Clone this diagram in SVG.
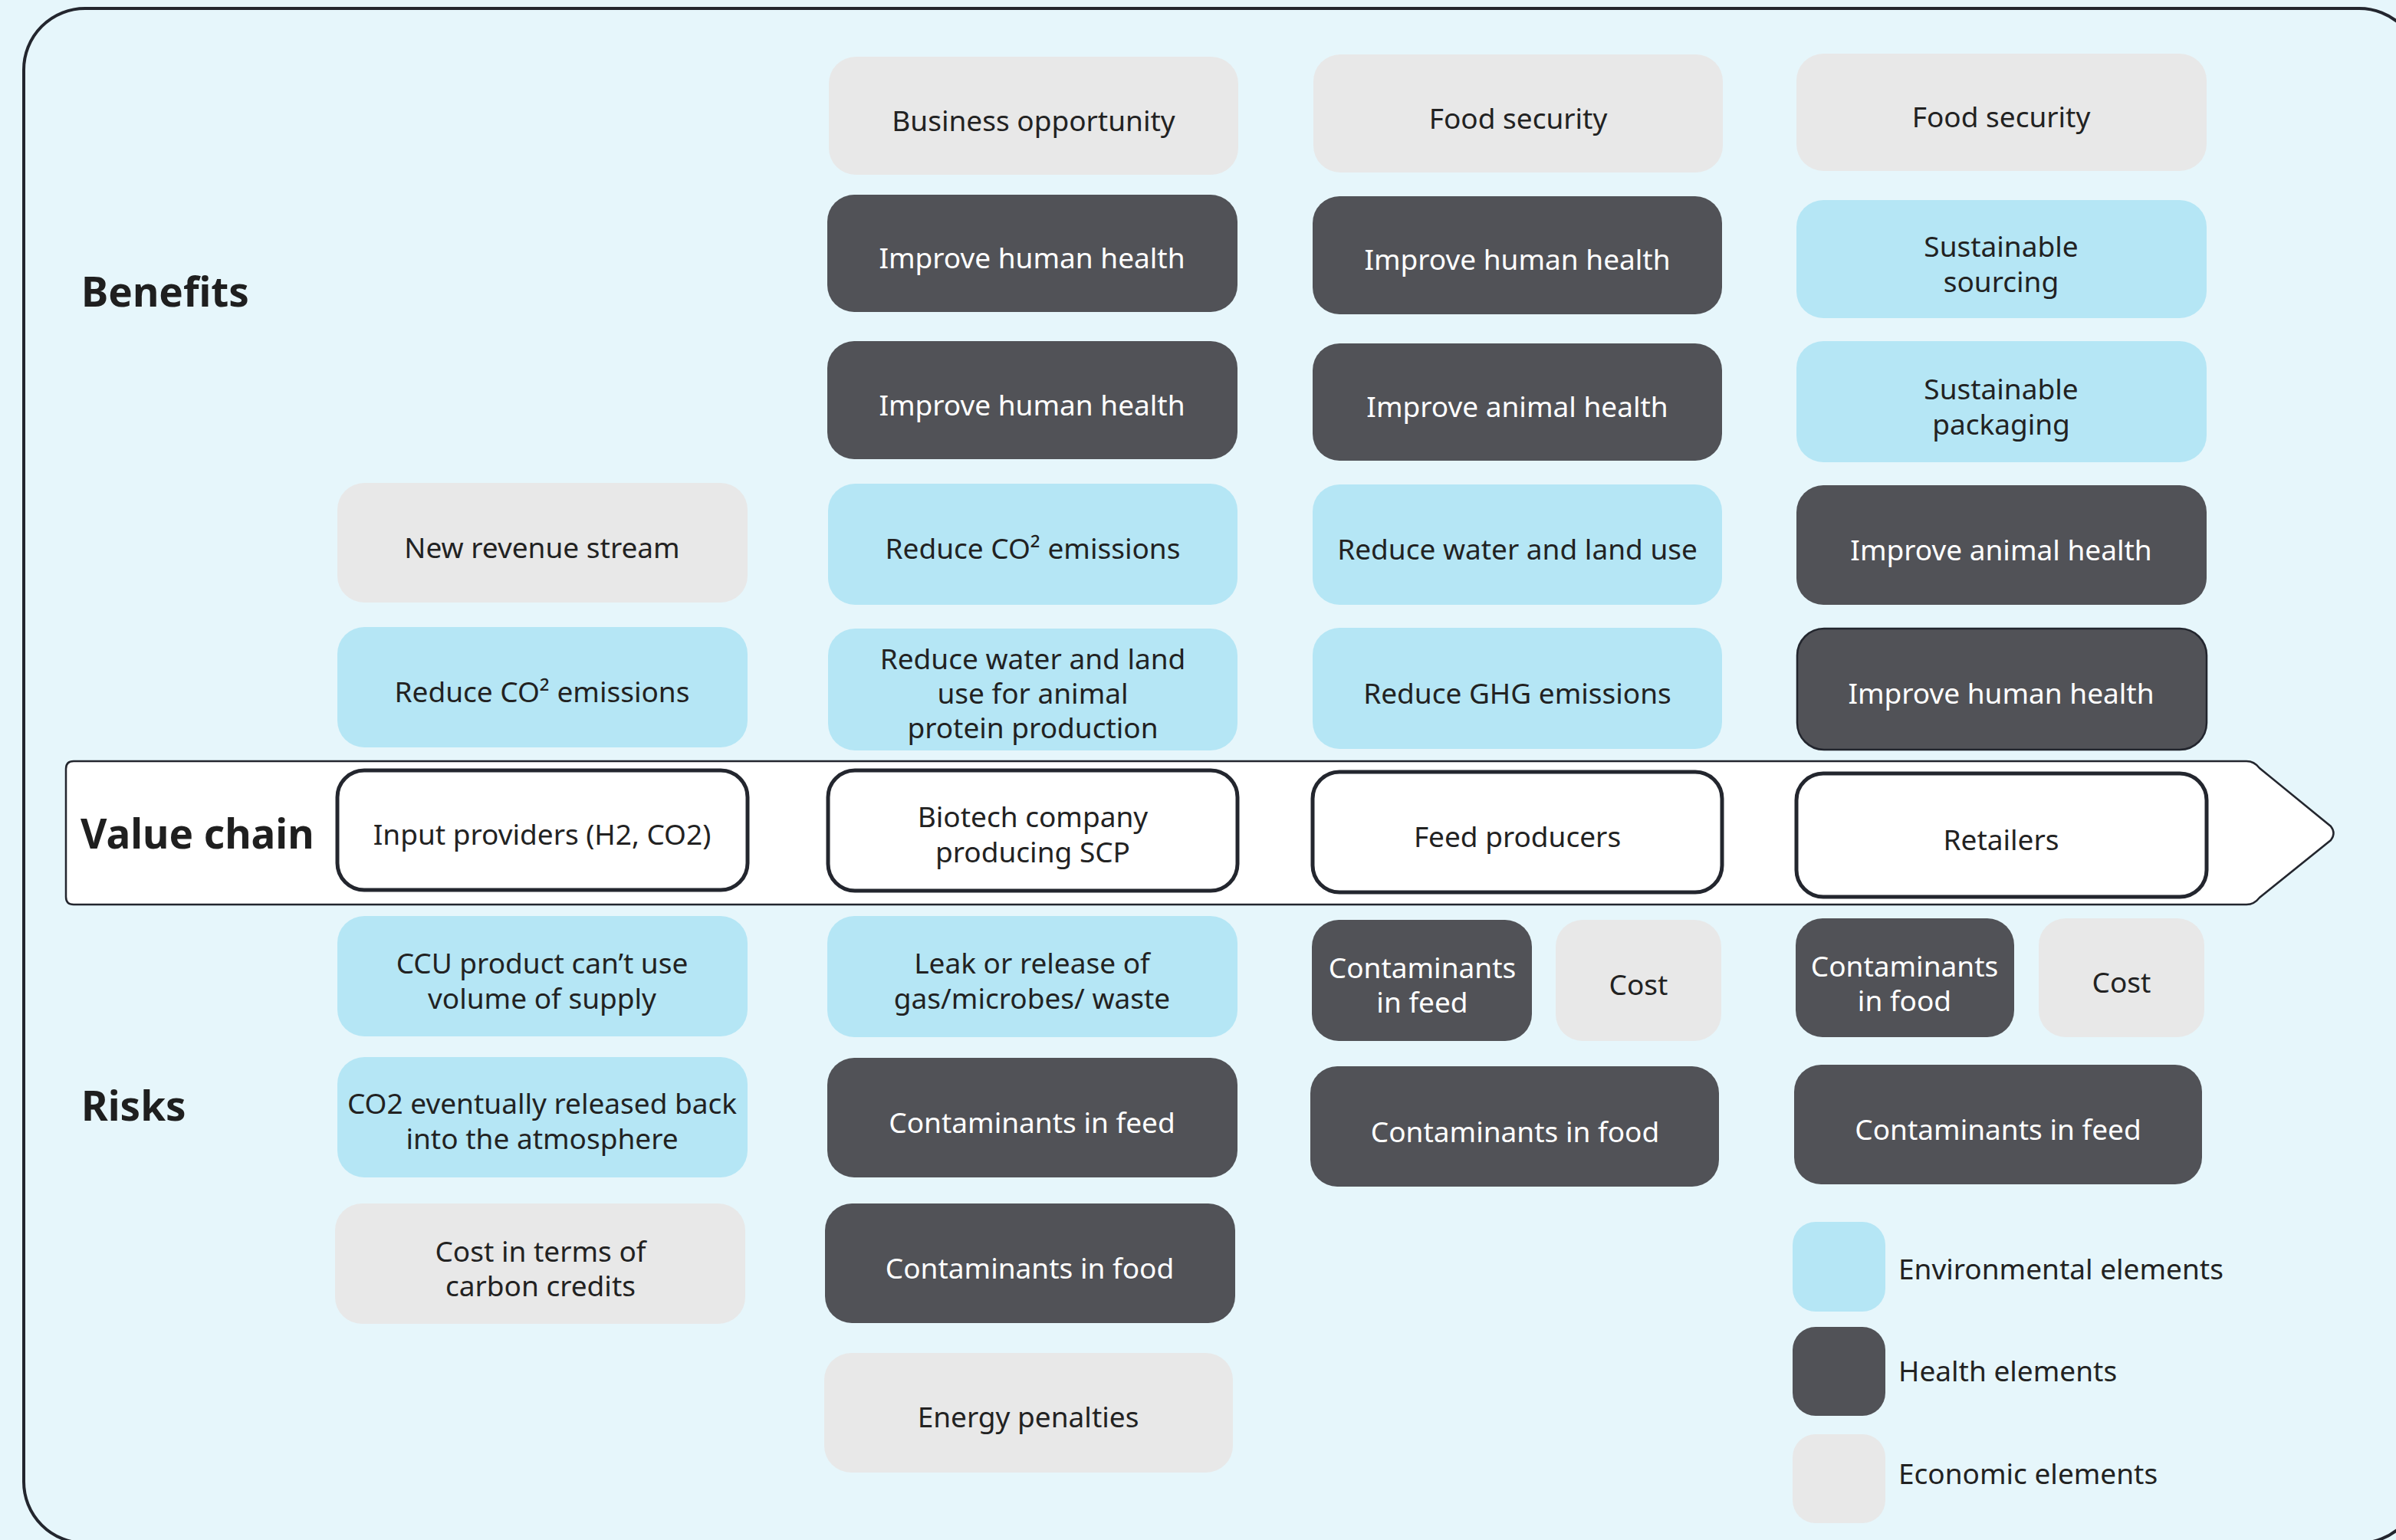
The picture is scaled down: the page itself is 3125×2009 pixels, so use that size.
<svg xmlns="http://www.w3.org/2000/svg" width="3125" height="2009" viewBox="0 0 3125 2009">
  <style>
    .env { fill: #b5e6f5; }
    .hl { fill: #515257; }
    .eco { fill: #e8e8e8; }
    .vc { fill: #ffffff; stroke: #23262e; stroke-width: 5; }
    .t { font-family: "Noto Sans", "Open Sans", sans-serif; font-size: 37px; text-anchor: middle; fill: #222222; }
    .w { fill: #ffffff; }
    .lg { font-family: "Noto Sans", "Open Sans", sans-serif; font-size: 37px; fill: #222222; }
    .h { font-family: "Noto Sans", "Open Sans", sans-serif; font-size: 53px; font-weight: bold; fill: #1f1f1f; }
  </style>

  <!-- background and frame -->
  <rect x="0" y="0" width="3125" height="2009" fill="#e6f6fb"/>
  <rect x="31" y="11" width="3126" height="2002" rx="80" ry="80" fill="none" stroke="#23262e" stroke-width="4"/>

  <!-- row headings -->
  <g id="headings">
    <text class="h" x="106" y="400">Benefits</text>
    <text class="h" x="106" y="1462">Risks</text>
  </g>

  <!-- value chain arrow -->
  <g id="value-chain">
    <path d="M96,993 H2930 Q2940,993 2947,1002 L3040,1078 Q3047,1087 3040,1096 L2947,1171 Q2940,1180 2930,1180 H96 Q86,1180 86,1170 V1003 Q86,993 96,993 Z" fill="#ffffff" stroke="#23262e" stroke-width="2.5"/>
    <text class="h" x="105" y="1107">Value chain</text>
  </g>

  <!-- column 1: input providers -->
  <g id="c1-revenue"><rect class="eco" x="440" y="630" width="535" height="156" rx="35"/><text class="t" x="707" y="728">New revenue stream</text></g>
  <g id="c1-co2"><rect class="env" x="440" y="818" width="535" height="157" rx="35"/><text class="t" x="707" y="916">Reduce CO² emissions</text></g>
  <g id="c1-input"><rect class="vc" x="440" y="1005" width="535" height="156" rx="35"/><text class="t" x="707" y="1102">Input providers (H2, CO2)</text></g>
  <g id="c1-ccu"><rect class="env" x="440" y="1195" width="535" height="157" rx="35"/><text class="t" x="707" y="1270">CCU product can’t use<tspan x="707" dy="46">volume of supply</tspan></text></g>
  <g id="c1-release"><rect class="env" x="440" y="1379" width="535" height="157" rx="35"/><text class="t" x="707" y="1453">CO2 eventually released back<tspan x="707" dy="46">into the atmosphere</tspan></text></g>
  <g id="c1-credits"><rect class="eco" x="437" y="1570" width="535" height="157" rx="35"/><text class="t" x="705" y="1646">Cost in terms of<tspan x="705" dy="45">carbon credits</tspan></text></g>

  <!-- column 2: biotech company -->
  <g id="c2-business"><rect class="eco" x="1081" y="74" width="534" height="154" rx="35"/><text class="t" x="1348" y="171">Business opportunity</text></g>
  <g id="c2-human1"><rect class="hl" x="1079" y="254" width="535" height="153" rx="35"/><text class="t w" x="1346" y="350">Improve human health</text></g>
  <g id="c2-human2"><rect class="hl" x="1079" y="445" width="535" height="154" rx="35"/><text class="t w" x="1346" y="542">Improve human health</text></g>
  <g id="c2-co2"><rect class="env" x="1080" y="631" width="534" height="158" rx="35"/><text class="t" x="1347" y="729">Reduce CO² emissions</text></g>
  <g id="c2-water"><rect class="env" x="1080" y="820" width="534" height="159" rx="35"/><text class="t" x="1347" y="873">Reduce water and land<tspan x="1347" dy="45">use for animal</tspan><tspan x="1347" dy="45">protein production</tspan></text></g>
  <g id="c2-biotech"><rect class="vc" x="1080" y="1005" width="534" height="157" rx="35"/><text class="t" x="1347" y="1079">Biotech company<tspan x="1347" dy="46">producing SCP</tspan></text></g>
  <g id="c2-leak"><rect class="env" x="1079" y="1195" width="535" height="158" rx="35"/><text class="t" x="1346" y="1270">Leak or release of<tspan x="1346" dy="46">gas/microbes/ waste</tspan></text></g>
  <g id="c2-feed"><rect class="hl" x="1079" y="1380" width="535" height="156" rx="35"/><text class="t w" x="1346" y="1478">Contaminants in feed</text></g>
  <g id="c2-food"><rect class="hl" x="1076" y="1570" width="535" height="156" rx="35"/><text class="t w" x="1343" y="1668">Contaminants in food</text></g>
  <g id="c2-energy"><rect class="eco" x="1075" y="1765" width="533" height="156" rx="35"/><text class="t" x="1341" y="1862">Energy penalties</text></g>

  <!-- column 3: feed producers -->
  <g id="c3-security"><rect class="eco" x="1713" y="71" width="534" height="154" rx="35"/><text class="t" x="1980" y="168">Food security</text></g>
  <g id="c3-human"><rect class="hl" x="1712" y="256" width="534" height="154" rx="35"/><text class="t w" x="1979" y="352">Improve human health</text></g>
  <g id="c3-animal"><rect class="hl" x="1712" y="448" width="534" height="153" rx="35"/><text class="t w" x="1979" y="544">Improve animal health</text></g>
  <g id="c3-water"><rect class="env" x="1712" y="632" width="534" height="157" rx="35"/><text class="t" x="1979" y="730">Reduce water and land use</text></g>
  <g id="c3-ghg"><rect class="env" x="1712" y="819" width="534" height="158" rx="35"/><text class="t" x="1979" y="918">Reduce GHG emissions</text></g>
  <g id="c3-feedprod"><rect class="vc" x="1712" y="1007" width="534" height="157" rx="35"/><text class="t" x="1979" y="1105">Feed producers</text></g>
  <g id="c3-feed"><rect class="hl" x="1711" y="1200" width="287" height="158" rx="35"/><text class="t w" x="1855" y="1276">Contaminants<tspan x="1855" dy="45">in feed</tspan></text></g>
  <g id="c3-cost"><rect class="eco" x="2029" y="1200" width="216" height="158" rx="35"/><text class="t" x="2137" y="1298">Cost</text></g>
  <g id="c3-food"><rect class="hl" x="1709" y="1391" width="533" height="157" rx="35"/><text class="t w" x="1976" y="1490">Contaminants in food</text></g>

  <!-- column 4: retailers -->
  <g id="c4-security"><rect class="eco" x="2343" y="70" width="535" height="153" rx="35"/><text class="t" x="2610" y="166">Food security</text></g>
  <g id="c4-sourcing"><rect class="env" x="2343" y="261" width="535" height="154" rx="35"/><text class="t" x="2610" y="335">Sustainable<tspan x="2610" dy="46">sourcing</tspan></text></g>
  <g id="c4-packaging"><rect class="env" x="2343" y="445" width="535" height="158" rx="35"/><text class="t" x="2610" y="521">Sustainable<tspan x="2610" dy="46">packaging</tspan></text></g>
  <g id="c4-animal"><rect class="hl" x="2343" y="633" width="535" height="156" rx="35"/><text class="t w" x="2610" y="731">Improve animal health</text></g>
  <g id="c4-human"><rect class="hl" x="2344" y="820" width="534" height="158" rx="35" stroke="#23262e" stroke-width="2.5"/><text class="t w" x="2610" y="918">Improve human health</text></g>
  <g id="c4-retailers"><rect class="vc" x="2343" y="1009" width="535" height="161" rx="35"/><text class="t" x="2610" y="1109">Retailers</text></g>
  <g id="c4-food"><rect class="hl" x="2342" y="1198" width="285" height="155" rx="35"/><text class="t w" x="2484" y="1274">Contaminants<tspan x="2484" dy="45">in food</tspan></text></g>
  <g id="c4-cost"><rect class="eco" x="2659" y="1198" width="216" height="155" rx="35"/><text class="t" x="2767" y="1295">Cost</text></g>
  <g id="c4-feed"><rect class="hl" x="2340" y="1389" width="532" height="156" rx="35"/><text class="t w" x="2606" y="1487">Contaminants in feed</text></g>

  <!-- legend -->
  <g id="legend">
    <rect class="env" x="2338" y="1594" width="121" height="117" rx="30"/>
    <text class="lg" x="2476" y="1669">Environmental elements</text>
    <rect class="hl" x="2338" y="1731" width="121" height="116" rx="30"/>
    <text class="lg" x="2476" y="1802">Health elements</text>
    <rect class="eco" x="2338" y="1871" width="121" height="116" rx="30"/>
    <text class="lg" x="2476" y="1936">Economic elements</text>
  </g>

  <!-- no connectors in this chart -->
  <g id="connectors"/>
</svg>
